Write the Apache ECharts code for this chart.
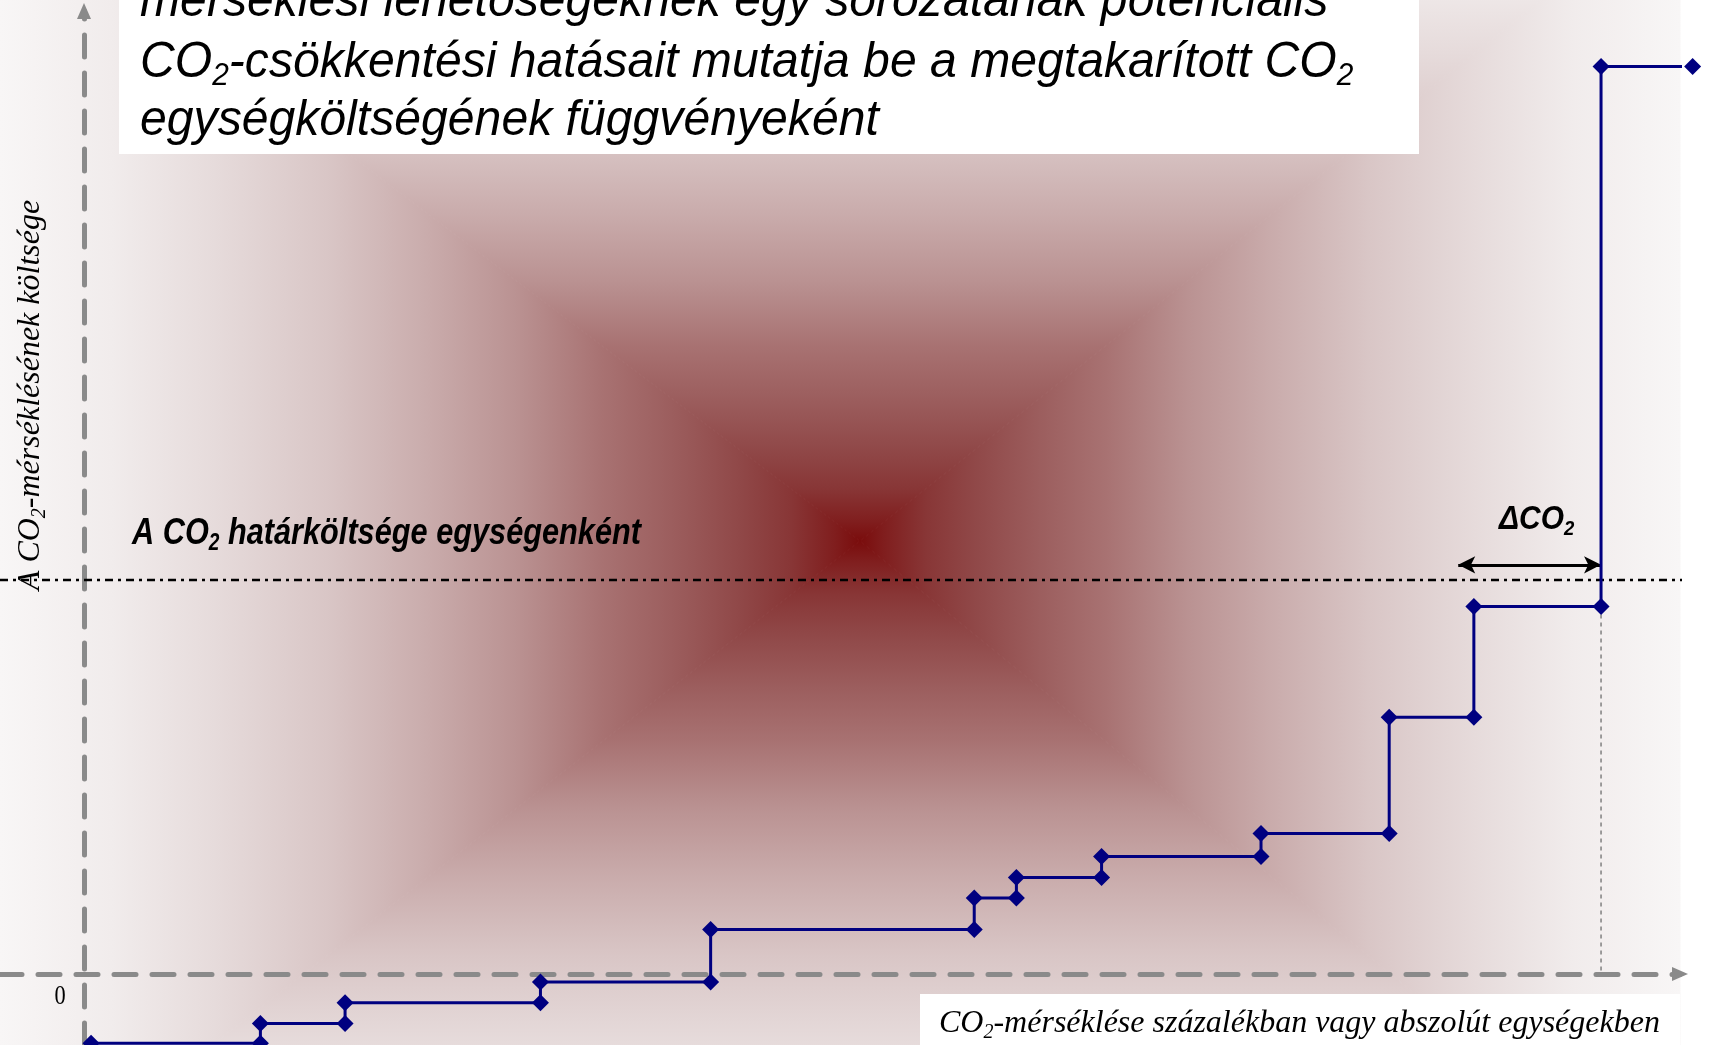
<!DOCTYPE html>
<html><head><meta charset="utf-8">
<script src="https://cdn.jsdelivr.net/npm/echarts@6/dist/echarts.min.js"></script>
<style>html,body{margin:0;padding:0;background:#fff}#c{width:1722px;height:1045px}</style>
</head><body><div id="c"></div><script>
// ---- data (arbitrary units) ----
const stepX = [0.42, 10.5, 15.54, 27.17, 37.3, 52.99, 55.5, 60.57, 70.06, 77.69, 82.73, 90.3, 95.75];
const stepCost = [-7.81, -5.58, -3.23, -0.9, 5.0, 8.56, 10.88, 13.23, 15.84, 28.94, 41.41, 102.25];
const marginalCost = 44.4;
const marginalSpan = [-5, 97.0];
const deltaFrom = 81.8;
const deltaTo = 90.3;
const deltaLevel = 46.1;
const xRange = [-5, 95];
const yRange = [-8, 108.5];
const zeroLabel = '0';
const titleLines = [
  'mérséklési lehetőségeknek egy sorozatának potenciális',
  'CO{s|2}-csökkentési hatásait mutatja be a megtakarított CO{s|2}',
  'egységköltségének függvényeként'
];
const yTitle = 'A CO{s|2}-mérséklésének költsége';
const xTitle = 'CO{s|2}-mérséklése százalékban vagy abszolút egységekben';
const mcLabel = 'A CO{s|2} határköltsége egységenként';
const deltaLabel = 'ΔCO{s|2}';

// ---- build step corner points ----
const stepPts = [];
for (let i = 0; i < stepCost.length; i++) {
  stepPts.push([stepX[i], stepCost[i]]);
  stepPts.push([stepX[i + 1], stepCost[i]]);
}

const SANS = "'Liberation Sans', Arial, sans-serif";
const SERIF = "'Liberation Serif', 'Times New Roman', serif";

const chart = echarts.init(document.getElementById('c'), null, {renderer: 'canvas'});

// background rectangle (path) gradient made of four triangles
const cx = 860, cy = 541, L = 0, R = 1680, T = -110, B = 1210;
const stops = [
  [0, 'rgb(248,246,246)'], [0.13, 'rgb(241,236,236)'], [0.25, 'rgb(230,219,219)'],
  [0.38, 'rgb(217,198,198)'], [0.5, 'rgb(201,171,171)'], [0.6, 'rgb(186,146,146)'],
  [0.7, 'rgb(168,114,114)'], [0.78, 'rgb(156,94,94)'], [0.86, 'rgb(144,72,72)'],
  [0.92, 'rgb(136,54,54)'], [0.97, 'rgb(128,30,30)'], [1, 'rgb(122,12,12)']
].map(s => ({offset: s[0], color: s[1]}));
function grad(x, y, x2, y2) { return new echarts.graphic.LinearGradient(x, y, x2, y2, stops, true); }
function tri(pts, g) {
  return {type: 'polygon', z: -100, silent: true, shape: {points: pts}, style: {fill: g, stroke: g, lineWidth: 1}};
}
const bg = [
  tri([[L, T], [R, T], [cx, cy]], grad(0, T, 0, cy)),
  tri([[L, B], [R, B], [cx, cy]], grad(0, B, 0, cy)),
  tri([[L, T], [L, B], [cx, cy]], grad(L, 0, cx, 0)),
  tri([[R, T], [R, B], [cx, cy]], grad(R, 0, cx, 0))
];

function txt(x, y, text, o) {
  const fs = o.fontSize;
  const fam = o.fontFamily, st = o.fontStyle || 'normal', wt = o.fontWeight || 'normal';
  return {
    type: 'text', x: x, y: y, rotation: o.rotation || 0, scaleX: o.scaleX || 1, z: 50, silent: true,
    style: {
      text: text, x: 0, y: 0, fill: '#000', fontSize: fs, fontFamily: fam, fontStyle: st, fontWeight: wt,
      lineHeight: Math.round(fs * 1.15), align: o.align || 'left', verticalAlign: 'middle',
      rich: {s: {fontSize: Math.round(fs * 0.62), fontFamily: fam, fontStyle: st, fontWeight: wt,
        lineHeight: Math.round(fs * 0.55), verticalAlign: 'bottom', fill: '#000'}}
    }
  };
}

const graphics = bg.concat([
  {type: 'rect', z: 10, silent: true, shape: {x: 119, y: 0, width: 1300, height: 154}, style: {fill: '#fff'}},
  {type: 'rect', z: 10, silent: true, shape: {x: 920, y: 994, width: 760, height: 51}, style: {fill: '#fff'}},
  txt(140, 2, titleLines[0], {fontSize: 50, fontFamily: SANS, fontStyle: 'italic', scaleX: 0.963}),
  txt(140, 63, titleLines[1], {fontSize: 50, fontFamily: SANS, fontStyle: 'italic', scaleX: 0.963}),
  txt(140, 121, titleLines[2], {fontSize: 50, fontFamily: SANS, fontStyle: 'italic', scaleX: 0.963}),
  txt(31, 395, yTitle, {fontSize: 32, fontFamily: SERIF, fontStyle: 'italic', align: 'center', rotation: Math.PI / 2}),
  txt(939, 1024, xTitle, {fontSize: 32, fontFamily: SERIF, fontStyle: 'italic'}),
  txt(132, 534, mcLabel, {fontSize: 37, fontFamily: SANS, fontStyle: 'italic', fontWeight: 'bold', scaleX: 0.83}),
  txt(1499, 520, deltaLabel, {fontSize: 34, fontFamily: SANS, fontStyle: 'italic', fontWeight: 'bold', scaleX: 0.88}),
  txt(60, 997, zeroLabel, {fontSize: 28, fontFamily: SERIF, align: 'center', scaleX: 0.8})
]);

const axisLineStyle = {color: '#8a8a8a', width: 5, type: [22, 16]};

chart.setOption({
  animation: false,
  backgroundColor: '#fff',
  grid: {left: 0, right: 42, top: 11, bottom: 0, containLabel: false},
  xAxis: {type: 'value', min: xRange[0], max: xRange[1],
    axisLine: {show: true, onZero: true, symbol: ['none', 'triangle'], symbolSize: [14, 16], lineStyle: axisLineStyle},
    axisTick: {show: false}, axisLabel: {show: false}, splitLine: {show: false}},
  yAxis: {type: 'value', min: yRange[0], max: yRange[1],
    axisLine: {show: true, onZero: true, symbol: ['none', 'triangle'], symbolSize: [14, 16], lineStyle: axisLineStyle},
    axisTick: {show: false}, axisLabel: {show: false}, splitLine: {show: false}},
  graphic: {elements: graphics},
  series: [
    {type: 'line', data: [[marginalSpan[0], marginalCost], [marginalSpan[1], marginalCost]], symbol: 'none', clip: false, z: 3,
      lineStyle: {color: '#000', width: 2.5, type: [8, 5, 3, 5]}, silent: true},
    {type: 'line', data: [[deltaTo, stepCost[10]], [deltaTo, 0]], symbol: 'none', clip: false, z: 3,
      lineStyle: {color: '#808080', width: 1.5, type: [4, 4]}, silent: true,
      markLine: {silent: true, symbol: ['arrow', 'arrow'], symbolSize: [13, 17], label: {show: false},
        lineStyle: {color: '#000', width: 3, type: 'solid'},
        data: [[{coord: [deltaFrom, deltaLevel]}, {coord: [deltaTo, deltaLevel]}]]}},
    {type: 'line', data: stepPts, symbol: 'diamond', symbolSize: 17, showAllSymbol: true, clip: false, z: 5,
      lineStyle: {color: '#000080', width: 3}, itemStyle: {color: '#000080'}, silent: true}
  ]
});
</script></body></html>
